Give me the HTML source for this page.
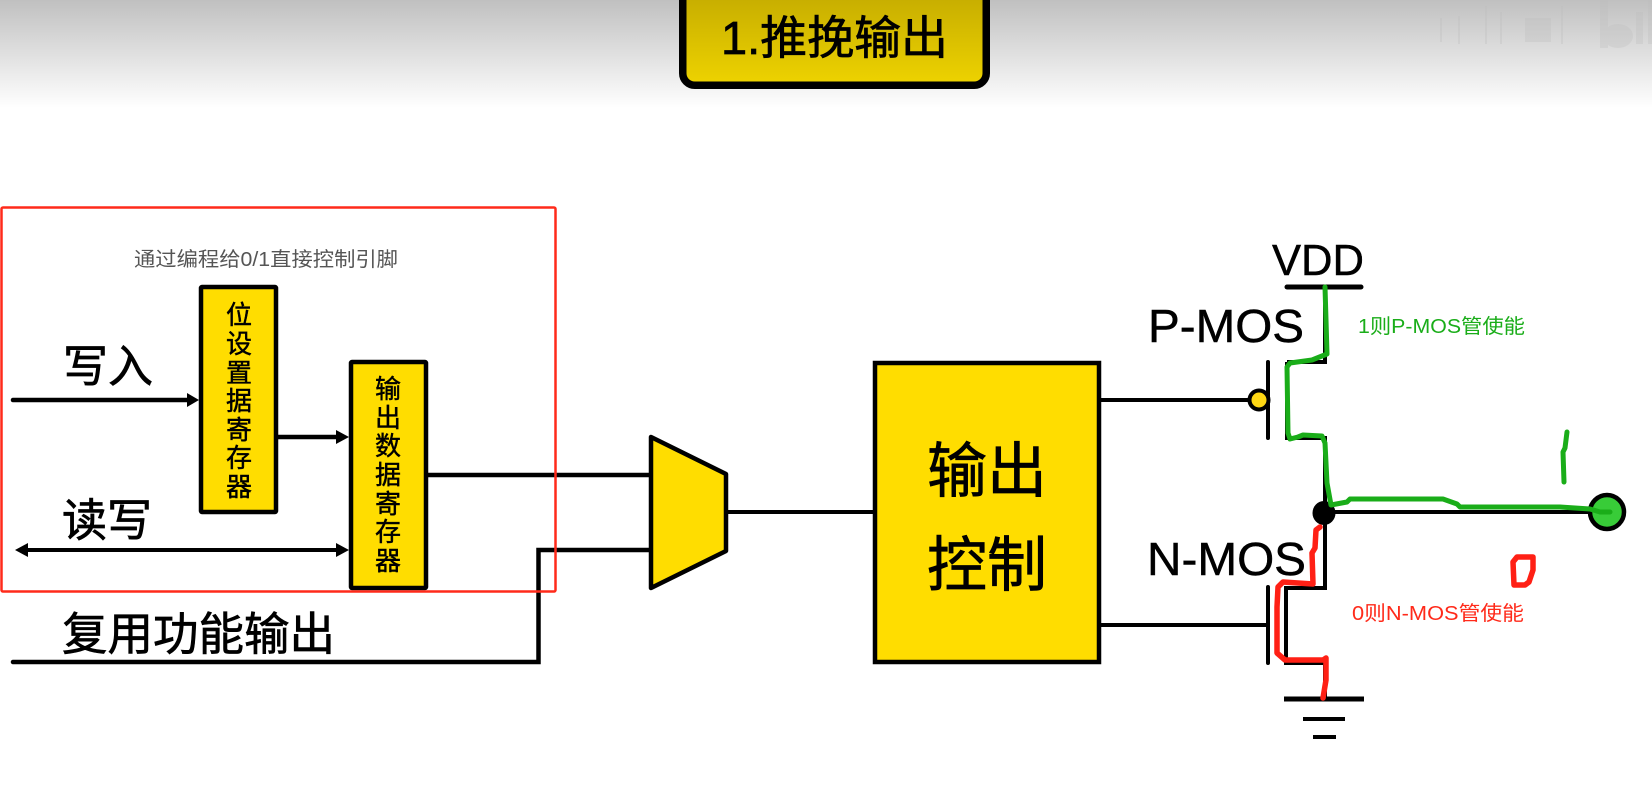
<!DOCTYPE html>
<html><head><meta charset="utf-8"><style>
html,body{margin:0;padding:0;background:#fff;width:1652px;height:793px;overflow:hidden}
svg{display:block}
text{font-family:"Liberation Sans","Noto Sans CJK SC",sans-serif;fill:#000}
.b{stroke:#000;stroke-width:.7px}
.s{stroke:#000;stroke-width:.45px}
</style></head><body>
<svg width="1652" height="793" viewBox="0 0 1652 793" xmlns="http://www.w3.org/2000/svg">
<defs>
<linearGradient id="bg" x1="0" y1="0" x2="0" y2="1"><stop offset="0" stop-color="#c0c0c0"/><stop offset="1" stop-color="#ffffff"/></linearGradient>
<linearGradient id="tg" x1="0" y1="0" x2="0" y2="1"><stop offset="0" stop-color="#c2a900"/><stop offset="1" stop-color="#eed300"/></linearGradient>
</defs>
<rect x="0" y="0" width="1652" height="108" fill="url(#bg)"/>
<!-- watermark -->
<g fill="#bdbdbd" opacity=".3">
<rect x="1440" y="18" width="2" height="24"/><rect x="1458" y="16" width="2" height="28"/><rect x="1485" y="6" width="2" height="38"/><rect x="1500" y="12" width="2" height="32"/><rect x="1525" y="18" width="26" height="24"/><rect x="1561" y="6" width="2" height="38"/>
<rect x="1600" y="0" width="8" height="48"/><ellipse cx="1618" cy="36" rx="15" ry="12"/><rect x="1636" y="12" width="7" height="32"/><rect x="1648" y="0" width="4" height="44"/>
</g>
<!-- title -->
<rect x="682.750" y="-14" width="303.500" height="99.300" rx="12" fill="url(#tg)" stroke="#000" stroke-width="7.500"/>
<text class="b" x="721" y="54" font-size="46" textLength="227" lengthAdjust="spacingAndGlyphs">1.推挽输出</text>

<!-- wires -->
<g fill="none" stroke="#000" stroke-width="4">
<path d="M13 400H190" stroke-linecap="round" stroke-width="4.500"/>
<path d="M278 437H340" stroke-width="4.500"/>
<path d="M24 550H340"/>
<path d="M427 475H651" stroke-width="4.500"/>
<path d="M13 662H538.500V550H651" stroke-width="4.500" stroke-linecap="round"/>
<path d="M726 512H874"/>
<path d="M1100 400H1250"/>
<path d="M1100 625H1268"/>
<path d="M1287 362H1325V287" />
<path d="M1287 362V438H1325V512"/>
<path d="M1325 512V588H1286V663H1325V699"/>
<path d="M1325 512H1595"/>
<path d="M1268 362V438M1268 587V663" stroke-linecap="round" stroke-width="4"/>
<path d="M1287 287H1361" stroke-linecap="round" stroke-width="5"/>
<path d="M1284 699H1364" stroke-width="5"/>
<path d="M1303 719H1345M1313 737H1336" stroke-width="4"/>
</g>
<g fill="#000">
<path d="M187 393L199 400L187 407Z"/>
<path d="M336 430L349 437L336 444Z"/>
<path d="M336 543L349 550L336 557Z"/>
<path d="M15 550L28 543V557Z"/>
</g>

<!-- boxes -->
<rect x="201" y="287" width="75" height="225" rx="1" fill="#ffdd00" stroke="#000" stroke-width="4.500"/>
<rect x="351" y="362" width="75" height="226" rx="1" fill="#ffdd00" stroke="#000" stroke-width="4.500"/>
<polygon points="651,437 726,474 726,551 651,588" fill="#ffdd00" stroke="#000" stroke-width="4.500" stroke-linejoin="round"/>
<rect x="875" y="363" width="224" height="299" fill="#ffdd00" stroke="#000" stroke-width="4.500"/>

<g font-size="26" text-anchor="middle" class="s">
<text x="239" y="324">位</text><text x="239" y="353">设</text><text x="239" y="382">置</text><text x="239" y="410">据</text><text x="239" y="439">寄</text><text x="239" y="467">存</text><text x="239" y="496">器</text>
<text x="388" y="398">输</text><text x="388" y="427">出</text><text x="388" y="455">数</text><text x="388" y="484">据</text><text x="388" y="513">寄</text><text x="388" y="541">存</text><text x="388" y="570">器</text>
</g>
<g font-size="60" text-anchor="middle" class="b">
<text x="987" y="492">输出</text>
<text x="987" y="586">控制</text>
</g>
<text class="b" x="63" y="382" font-size="45">写入</text>
<text class="b" x="62" y="536" font-size="45">读写</text>
<text class="b" x="62" y="650" font-size="45.500">复用功能输出</text>
<text x="134" y="266" font-size="20" style="fill:#555" textLength="264" lengthAdjust="spacingAndGlyphs">通过编程给0/1直接控制引脚</text>

<text class="s" x="1272" y="275" font-size="44" textLength="92" lengthAdjust="spacingAndGlyphs">VDD</text>
<text class="s" x="1148" y="342" font-size="46" textLength="156" lengthAdjust="spacingAndGlyphs">P-MOS</text>
<text class="s" x="1147" y="575" font-size="46" textLength="159" lengthAdjust="spacingAndGlyphs">N-MOS</text>

<!-- P bubble, node, output -->
<circle cx="1259" cy="400" r="9.500" fill="#ffd814" stroke="#000" stroke-width="4"/>
<ellipse cx="1324" cy="513" rx="11.500" ry="12" fill="#000"/>
<circle cx="1607" cy="512" r="17" fill="#38cc38" stroke="#000" stroke-width="4.500"/>

<!-- red frame -->
<rect x="1.500" y="207.500" width="554" height="384" rx="1.500" fill="none" stroke="#ff2a1a" stroke-width="2.500"/>

<!-- annotations -->
<g fill="none" stroke-linecap="round" stroke-linejoin="round">
<path stroke="#1aad19" stroke-width="5" d="M1325 287L1326 320L1327 354L1312 360L1290 363L1287 367L1288 433L1290 439L1298 437L1303 435L1322 436L1325 443L1327 483L1331 505L1347 502L1350 499L1443 499L1457 504L1460 507L1560 507L1590 509L1600 512L1610 512"/>
<path stroke="#1aad19" stroke-width="5" d="M1567 432L1565 448L1563 452L1564 482"/>
<path stroke="#ff2015" stroke-width="5.500" d="M1320 527L1316 530L1315 548L1312 553L1313 584L1283 582L1278 587L1277 607L1277 653L1285 660L1323 660L1326 658L1326 680L1323 698"/>
<path stroke="#ff2015" stroke-width="5.500" d="M1514 585L1513 562L1517 557L1533 557L1533 570L1529 582L1525 585Z"/>
</g>
<text x="1358" y="333" font-size="20" style="fill:#1aad19" textLength="167" lengthAdjust="spacingAndGlyphs">1则P-MOS管使能</text>
<text x="1352" y="620" font-size="20" style="fill:#ff2a1a" textLength="172" lengthAdjust="spacingAndGlyphs">0则N-MOS管使能</text>
</svg>
</body></html>
